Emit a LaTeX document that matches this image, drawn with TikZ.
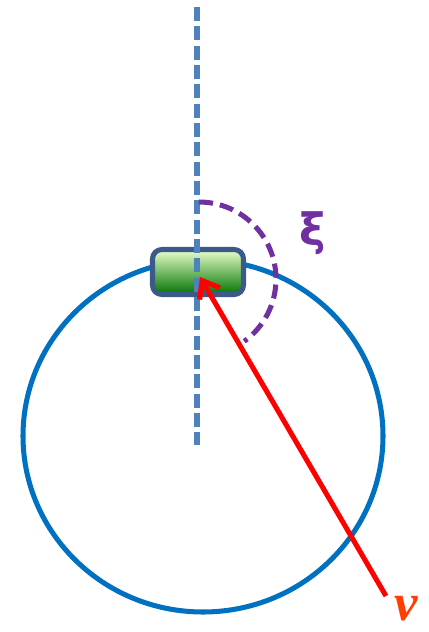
\documentclass[tikz,border=0pt]{standalone}
\usepackage{amsmath,amssymb}
\usepackage{fontspec}
\newfontfamily\greekfont{DejaVu Sans}
\newfontfamily\nufont{Liberation Serif}
\usetikzlibrary{positioning,arrows.meta}

\definecolor{ringblue}{HTML}{0070C0}
\definecolor{axisblue}{HTML}{4F81BD}
\definecolor{anglepurple}{HTML}{7030A0}
\definecolor{boxedge}{HTML}{3B5A8A}
\definecolor{nuorange}{HTML}{FF3F00}

\begin{document}
\begin{tikzpicture}[x=0.03cm, y=0.03cm,
  ring/.style={draw=ringblue, line width=4.3pt},
  axis/.style={draw=axisblue, line width=4.3pt, dash pattern=on 12pt off 4.5pt},
  anglearc/.style={draw=anglepurple, line width=4.3pt, dash pattern=on 12pt off 6pt},
  detector/.style={rectangle, draw=boxedge, line width=4.3pt, rounded corners=8pt,
    minimum width=2.73cm, minimum height=1.35cm,
    top color=green!20!lime!20, middle color=green!45!black!45!lime!50, bottom color=green!45!black},
  track/.style={draw=red, line width=4.3pt, -{Straight Barb[length=13pt, width=20pt]}}]
\useasboundingbox (0,0) rectangle (429,-632);

\draw[ring] (203,-436) ellipse [x radius=180, y radius=176];

\node[detector] (det) at (198,-272) {};

\coordinate (axtop) at (197,-7);
\coordinate (axbot) at (197,-445);
\draw[axis] (axtop) -- (axbot);

\draw[anglearc] (199,-202) arc[start angle=90, end angle=-54, radius=77];

\coordinate (hit) at (200,-277);
\coordinate (nutail) at (386,-596);
\draw[track] (nutail) -- (hit);

\node[text=anglepurple, font=\greekfont\bfseries\fontsize{38}{38}\selectfont] (xi) at (313,-233) {ξ};
\node[text=nuorange, font=\nufont\bfseries\itshape\fontsize{45}{45}\selectfont,
  inner sep=0pt, text height=0.46em, text depth=0pt, anchor=base] (nu) at (406,-620) {ν};
\end{tikzpicture}
\end{document}
